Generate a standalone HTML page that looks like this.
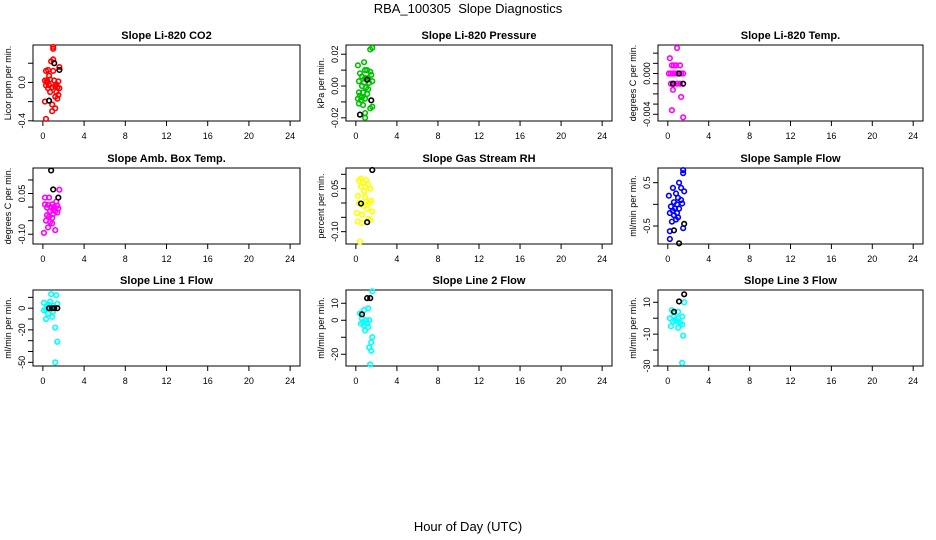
<!DOCTYPE html>
<html><head><meta charset="utf-8"><style>
body{margin:0;background:#fff}
svg{display:block;font-family:"Liberation Sans",sans-serif}
</style></head><body>
<svg id="c" width="936" height="540" viewBox="0 0 936 540">
<text x="468" y="13" text-anchor="middle" font-size="13" style="white-space:pre">RBA_100305  Slope Diagnostics</text>
<text x="468" y="531" text-anchor="middle" font-size="13">Hour of Day (UTC)</text>
</svg>
<script>
const xTicks=[0,4,8,12,16,20,24];
const titles=["Slope Li-820 CO2","Slope Li-820 Pressure","Slope Li-820 Temp.","Slope Amb. Box Temp.","Slope Gas Stream RH","Slope Sample Flow","Slope Line 1 Flow","Slope Line 2 Flow","Slope Line 3 Flow"];
const yTitles=["Licor ppm per min.","kPa per min.","degrees C per min.","degrees C per min.","percent per min.","ml/min per min.","ml/min per min.","ml/min per min.","ml/min per min."];
const colors=["#ff0000","#00c000","#ff00ff","#ff00ff","#ffff00","#0000ff","#00ffff","#00ffff","#00ffff"];
const yLims=[[-0.402,0.39],[-0.022,0.0258],[-0.00466,0.0028],[-0.136,0.144],[-0.143,0.122],[-0.915,0.839],[-53.4,16.8],[-26.9,17.8],[-30,17.7]];
const yTickVals=[[-0.4,-0.2,0,0.2],[-0.02,-0.01,0,0.01,0.02],[-0.004,-0.003,-0.002,-0.001,0,0.001,0.002],[-0.1,-0.05,0,0.05,0.1],[-0.1,-0.05,0,0.05,0.1],[-0.5,0,0.5],[-50,-40,-30,-20,-10,0,10],[-20,-10,0,10],[-30,-20,-10,0,10]];
const yTickLabels=[["-0.4","","0.0",""],["-0.02","","0.00","","0.02"],["-0.004","","","","0.000","",""],["-0.10","","","0.05",""],["-0.10","","","0.05",""],["-0.5","","0.5"],["-50","","","-20","","0",""],["-20","","0","10"],["-30","","-10","","10"]];
const hours=[
[1.0,1.0,0.8,1.0,1.6,0.3,0.5,1.0,0.6,0.2,0.4,0.7,1.1,1.5,0.3,0.6,1.2,1.4,0.5,0.9,1.6,0.7,1.3,1.5,1.2,1.4,0.2,0.9,1.2,0.9,0.3,0.4,1.3],
[1.4,1.6,0.2,0.8,0.9,1.1,1.4,0.4,1.5,0.6,0.9,1.2,0.3,0.8,1.3,1.6,0.6,1.0,1.2,0.3,0.7,1.1,0.2,0.5,0.9,0.3,0.7,1.4,1.6,0.9,0.9,0.4,0.6],
[0.9,0.2,0.4,0.6,0.8,1.2,0.1,0.3,0.5,0.7,0.9,1.1,1.3,1.5,0.3,0.6,0.9,1.2,0.5,1.3,0.4,1.5],
[1.6,0.2,0.6,1.3,0.2,0.5,0.9,1.4,0.4,0.8,1.1,1.5,0.7,1.2,1.0,1.4,0.6,0.9,0.3,0.7,0.5,1.2,0.1,0.9,0.4,1.0],
[0.5,0.3,1.0,0.7,1.2,0.5,0.9,1.4,0.2,0.9,1.5,0.3,1.0,1.3,0.7,1.6,0.1,0.6,1.2,0.2,0.6,1.4,0.4,0.8,1.1],
[1.5,1.5,1.1,0.5,1.3,1.6,0.8,0.1,1.0,1.3,0.6,0.9,1.4,0.3,0.7,1.1,0.2,0.6,1.0,0.4,0.8,1.5,0.2,0.2,0.5,0.9],
[0.8,1.3,0.1,0.6,1.0,1.4,0.3,0.8,0.1,0.5,1.0,0.9,0.3,1.2,1.4,1.2,0.4,0.7],
[1.6,1.2,0.8,0.4,0.6,1.0,1.3,0.5,0.8,1.2,0.9,1.6,1.5,1.3,1.5,1.4,0.7,1.1],
[1.6,0.4,1.0,0.2,0.6,1.0,1.4,0.5,0.9,1.4,0.3,1.0,1.5,1.4,0.7,1.2]];
const values=[
[0.37,0.35,0.22,0.24,0.16,0.12,0.13,0.12,0.07,0.02,0.02,0.03,0.02,0.01,-0.03,-0.03,-0.04,-0.05,-0.06,-0.05,-0.06,-0.10,-0.10,-0.13,-0.15,-0.17,-0.20,-0.23,-0.27,-0.30,-0.38,0.0,-0.02],
[0.023,0.024,0.013,0.015,0.010,0.010,0.009,0.008,0.007,0.006,0.005,0.005,0.003,0.002,0.002,0.003,0.000,-0.001,-0.002,-0.004,-0.004,-0.005,-0.008,-0.009,-0.008,-0.011,-0.012,-0.014,-0.013,-0.017,-0.020,-0.006,-0.007],
[0.0025,0.0015,0.0008,0.0008,0.0008,0.0008,0,0,0,0,0,0,0,0,-0.001,-0.001,-0.001,-0.001,-0.0016,-0.0023,-0.0036,-0.0043],
[0.064,0.035,0.035,0.020,0.010,0.008,0.010,0.005,-0.002,0.0,0.0,-0.005,-0.015,-0.015,-0.025,-0.020,-0.035,-0.040,-0.050,-0.055,-0.075,-0.085,-0.095,-0.060,-0.030,-0.010],
[0.085,0.078,0.080,0.070,0.065,0.058,0.056,0.050,0.025,0.020,0.008,0.000,0.005,0.000,-0.010,-0.030,-0.035,-0.040,-0.055,-0.065,-0.070,-0.060,-0.135,0.040,-0.020],
[0.79,0.72,0.50,0.38,0.38,0.30,0.25,0.20,0.15,0.10,0.05,0.0,0.02,-0.05,-0.10,-0.10,-0.20,-0.25,-0.30,-0.40,-0.35,-0.55,-0.62,-0.80,-0.15,-0.20],
[13,12,5,3,2,4,-1,0,-2,-5,-3,-8,-10,-18,-31,-50,2,6],
[17,7,6,4,1,0,0,-2,-3,-4,-6,-10,-13,-16,-18,-26,-1,-2],
[10,5,4,0,1,0,1,-2,-2,-4,-5,-6,-11,-28,-1,-3]];
const blackHours=[[1.1,1.6,0.6],[1.1,1.5,0.4],[1.1,0.5,1.5],[0.8,1.0,1.5],[1.6,0.5,1.1],[1.6,0.6,1.1],[0.6,0.9,1.1,1.4],[1.1,1.4,0.6],[1.6,1.1,0.6]];
const blackValues=[[0.20,0.13,-0.19],[0.004,-0.009,-0.018],[0,-0.001,-0.001],[0.135,0.065,0.035],[0.115,-0.002,-0.067],[-0.45,-0.60,-0.90],[0,0,0,0],[13,13,3.5],[15,10.5,4]];

const NS="http://www.w3.org/2000/svg";
const svg=document.getElementById('c');
const colL=[33,346,658],colR=[300,612,923],rowT=[45,168,290],rowB=[121,244,366];
function mk(tag,attrs,parent){const e=document.createElementNS(NS,tag);for(const k in attrs)e.setAttribute(k,attrs[k]);(parent||svg).appendChild(e);return e;}
for(let p=0;p<9;p++){
  const c=p%3,r=Math.floor(p/3);
  const L=colL[c],R=colR[c],T=rowT[r],B=rowB[r];
  const g=mk('g',{});
  
  
  const xs=h=>L+(h+0.96)/25.92*(R-L);
  const ys=v=>B-(v-yLims[p][0])/(yLims[p][1]-yLims[p][0])*(B-T);
  const box=mk('rect',{x:L,y:T,width:R-L,height:B-T,fill:'none',stroke:'#000','stroke-width':1},g);
  
  
  const t=mk('text',{x:(L+R)/2,y:T-6,'text-anchor':'middle','font-size':11,'font-weight':'bold'},g);
  t.textContent=titles[p];
  
  
  const xa=mk('g',{},g);
  
  
  mk('line',{x1:xs(0),x2:xs(24),y1:B,y2:B,stroke:'#000'},xa);
  xTicks.forEach(v=>{
    mk('line',{x1:xs(v),x2:xs(v),y1:B,y2:B+5,stroke:'#000'},xa);
    const tl=mk('text',{x:xs(v),y:B+18,'text-anchor':'middle','font-size':9},xa);
    tl.textContent=v;
    
    
  });
  const ya=mk('g',{},g);
  
  
  const tv=yTickVals[p];
  mk('line',{x1:L,x2:L,y1:ys(tv[0]),y2:ys(tv[tv.length-1]),stroke:'#000'},ya);
  tv.forEach((v,i)=>{
    mk('line',{x1:L,x2:L-5,y1:ys(v),y2:ys(v),stroke:'#000'},ya);
    if(yTickLabels[p][i]){
      const yl=mk('text',{x:0,y:0,'text-anchor':'middle','font-size':9,transform:`translate(${L-8},${ys(v)}) rotate(-90)`},ya);
      yl.textContent=yTickLabels[p][i];
      
      
    }
  });
  const yt=mk('text',{x:0,y:0,'text-anchor':'middle','font-size':9,transform:`translate(${L-22},${(T+B)/2}) rotate(-90)`},g);
  yt.textContent=yTitles[p];
  
  
  const pts=mk('g',{fill:'none',stroke:colors[p],'stroke-width':1.6},g);
  
  
  hours[p].forEach((h,i)=>{
    const ci=mk('circle',{cx:xs(h),cy:ys(values[p][i]),r:2.3},pts);
    
    
  });
  const bp=mk('g',{fill:'none',stroke:'#000','stroke-width':1.6},g);
  
  
  blackHours[p].forEach((h,i)=>{
    const ci=mk('circle',{cx:xs(h),cy:ys(blackValues[p][i]),r:2.3},bp);
    
    
  });
}
</script>
</body></html>
